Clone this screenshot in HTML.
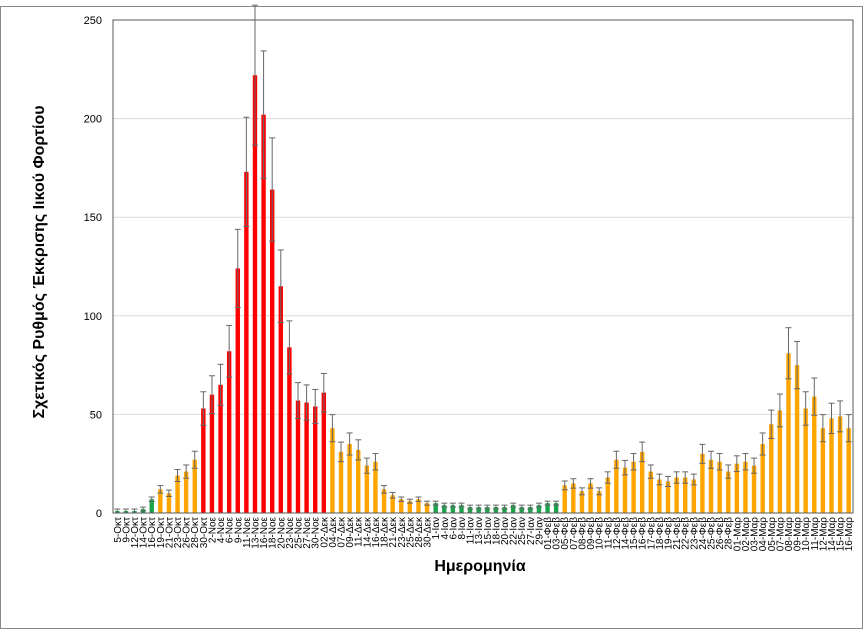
<!DOCTYPE html>
<html><head><meta charset="utf-8"><style>
body{margin:0;background:#fff;}
svg{display:block;font-family:"Liberation Sans","DejaVu Sans",sans-serif;}
</style></head><body>
<svg id="c" width="868" height="636" xmlns="http://www.w3.org/2000/svg"></svg>
<script>
const labels="5-Οκτ,9-Οκτ,12-Οκτ,14-Οκτ,16-Οκτ,19-Οκτ,21-Οκτ,23-Οκτ,26-Οκτ,28-Οκτ,30-Οκτ,2-Νοε,4-Νοε,6-Νοε,9-Νοε,11-Νοε,13-Νοε,16-Νοε,18-Νοε,20-Νοε,23-Νοε,25-Νοε,27-Νοε,30-Νοε,02-Δεκ,04-Δεκ,07-Δεκ,09-Δεκ,11-Δεκ,14-Δεκ,16-Δεκ,18-Δεκ,21-Δεκ,23-Δεκ,25-Δεκ,28-Δεκ,30-Δεκ,1-Ιαν,4-Ιαν,6-Ιαν,8-Ιαν,11-Ιαν,13-Ιαν,15-Ιαν,18-Ιαν,20-Ιαν,22-Ιαν,25-Ιαν,27-Ιαν,29-Ιαν,01-Φεβ,03-Φεβ,05-Φεβ,07-Φεβ,08-Φεβ,09-Φεβ,10-Φεβ,11-Φεβ,12-Φεβ,14-Φεβ,15-Φεβ,16-Φεβ,17-Φεβ,18-Φεβ,19-Φεβ,21-Φεβ,22-Φεβ,23-Φεβ,24-Φεβ,25-Φεβ,26-Φεβ,28-Φεβ,01-Μαρ,02-Μαρ,03-Μαρ,04-Μαρ,05-Μαρ,07-Μαρ,08-Μαρ,09-Μαρ,10-Μαρ,11-Μαρ,12-Μαρ,14-Μαρ,15-Μαρ,16-Μαρ".split(",");
const vals=[1,1,1,2,7,12,10,19,21,27,53,60,65,82,124,173,222,202,164,115,84,57,56,54,61,43,31,35,32,24,26,12,9,7,6,7,5,5,4,4,4,3,3,3,3,3,4,3,3,4,5,5,14,15,11,15,11,18,27,23,26,31,21,17,16,18,18,17,30,27,26,21,25,26,24,35,45,52,81,75,53,59,43,48,49,43];
const G="#1aa34a",O="#ffa500",R="#ff0000";
function col(i){if(i<5||(i>=37&&i<52))return G;if(i>=10&&i<=24)return R;return O;}
const x0=113,x1=853,y0=513,s=(513-20)/250,n=vals.length,w=(x1-x0)/n;
let h='<rect x="0.5" y="6.5" width="862" height="622" fill="none" stroke="#888" stroke-width="1"/>';
for(let v=50;v<=250;v+=50){const y=y0-v*s;h+=`<line x1="${x0}" x2="${x1}" y1="${y}" y2="${y}" stroke="#d9d9d9" stroke-width="1"/>`;}
for(let v=0;v<=250;v+=50){const y=y0-v*s;h+=`<text x="102" y="${y+4}" font-size="11" text-anchor="end" fill="#000">${v}</text>`;}
vals.forEach((v,i)=>{const cx=x0+w*(i+0.5);const bh=v*s;h+=`<rect x="${cx-2.2}" y="${y0-bh}" width="4.4" height="${bh}" fill="${col(i)}"/>`;
const e=Math.max(1,v*0.16);const yt=y0-(v+e)*s,yb=y0-Math.max(0,v-e)*s;
h+=`<line x1="${cx}" x2="${cx}" y1="${yt}" y2="${yb}" stroke="#666" stroke-width="1"/><line x1="${cx-3}" x2="${cx+3}" y1="${yt}" y2="${yt}" stroke="#666"/><line x1="${cx-3}" x2="${cx+3}" y1="${yb}" y2="${yb}" stroke="#666"/>`;
h+=`<text transform="translate(${cx+3.5},${y0+4}) rotate(-90)" font-size="10" text-anchor="end" fill="#000">${labels[i]}</text>`;});
h+=`<rect x="${x0}" y="20" width="${x1-x0}" height="${y0-20}" fill="none" stroke="#595959" stroke-width="1"/>`;
h+=`<text x="480" y="571" font-size="16" font-weight="bold" text-anchor="middle">Ημερομηνία</text>`;
h+=`<text transform="translate(44,262) rotate(-90)" font-size="16" font-weight="bold" text-anchor="middle">Σχετικός Ρυθμός Έκκρισης Ιικού Φορτίου</text>`;
document.getElementById('c').innerHTML=h;
</script>
</body></html>
